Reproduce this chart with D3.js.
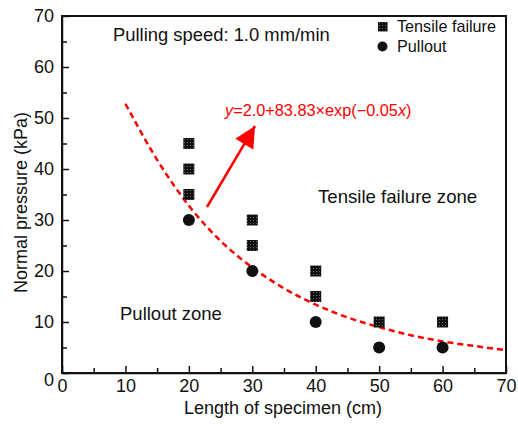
<!DOCTYPE html>
<meta charset="utf-8">
<style>
  body { margin: 0; background: #fff; }
  text { font-family: "Liberation Sans", Arial, sans-serif; fill: #111; }
  .axis text { font-size: 18px; }
  .axis path, .axis line { stroke: #111; stroke-width: 1.5px; }
</style>
<body>
<script src="https://d3js.org/d3.v7.min.js"></script>
<script>
// data
const tensileLen = [20, 20, 20, 30, 30, 40, 40, 50, 60];
const tensileP   = [45, 40, 35, 30, 25, 20, 15, 10, 10];
const pulloutLen = [20, 30, 40, 50, 60];
const pulloutP   = [30, 20, 10, 5, 5];
// fitted curve y = 2.0 + 83.83 exp(-0.05x), values as read
const fitLen = [10, 15, 20, 25, 30, 35, 40, 45, 50, 55, 60, 65, 70];
const fitP   = [52.8, 41.8, 32.8, 25.9, 20.7, 16.6, 13.4, 10.9, 9.0, 7.4, 6.2, 5.3, 4.5];
const xTicks = [0, 10, 20, 30, 40, 50, 60, 70];
const yTicks = [0, 10, 20, 30, 40, 50, 60, 70];

const width = 518, height = 424;
const margin = {top: 16, right: 12, bottom: 51, left: 62};

const svg = d3.select('body').append('svg')
  .attr('width', width).attr('height', height);

const x = d3.scaleLinear().domain([0, 70]).range([margin.left, width - margin.right]);
const y = d3.scaleLinear().domain([0, 70]).range([height - margin.bottom, margin.top]);

// checker pattern for tensile markers
const defs = svg.append('defs');
const pat = defs.append('pattern')
  .attr('id', 'chk').attr('patternUnits', 'userSpaceOnUse')
  .attr('width', 3).attr('height', 3);
pat.append('rect').attr('width', 3).attr('height', 3).attr('fill', '#111');
pat.append('rect').attr('x', 1).attr('y', 1).attr('width', 1).attr('height', 1).attr('fill', '#666');

// axes, ticks inside
const xAxis = svg.append('g').attr('class', 'axis')
  .attr('transform', `translate(0,${y(0)})`)
  .call(d3.axisBottom(x).tickValues(d3.range(0, 71, 5)).tickSize(-5).tickSizeOuter(0)
    .tickFormat(d => xTicks.includes(d) ? d : ''));
xAxis.selectAll('text').attr('dy', '0.9em');
xAxis.selectAll('.tick line').attr('y2', d => d % 10 === 0 ? -7 : -5);

const yAxis = svg.append('g').attr('class', 'axis')
  .attr('transform', `translate(${x(0)},0)`)
  .call(d3.axisLeft(y).tickValues(d3.range(0, 71, 5)).tickSize(-5).tickSizeOuter(0)
    .tickFormat(d => yTicks.includes(d) ? d : ''));
yAxis.selectAll('text').attr('x', -8);
yAxis.selectAll('.tick').filter(d => d === 0).select('text').attr('dy', '0.7em');
yAxis.selectAll('.tick line').attr('x2', d => d % 10 === 0 ? 7 : 5);

// frame
svg.append('rect')
  .attr('x', x(0)).attr('y', y(70))
  .attr('width', x(70) - x(0)).attr('height', y(0) - y(70))
  .attr('fill', 'none').attr('stroke', '#111').attr('stroke-width', 2);

// axis titles
svg.append('text').attr('x', (x(0) + x(70)) / 2 - 1).attr('y', 414)
  .attr('text-anchor', 'middle').style('font-size', '18px').text('Length of specimen (cm)');
svg.append('text').attr('transform', `translate(27,${(y(0) + y(70)) / 2 + 8}) rotate(-90)`)
  .attr('text-anchor', 'middle').style('font-size', '18px').text('Normal pressure (kPa)');

// fitted curve
const line = d3.line().x((d, i) => x(d)).y((d, i) => y(fitP[i])).curve(d3.curveMonotoneX);
svg.append('path').datum(fitLen).attr('d', line)
  .attr('fill', 'none').attr('stroke', '#f00').attr('stroke-width', 2.5)
  .attr('stroke-dasharray', '6,4');

// points
svg.append('g').selectAll('rect').data(tensileLen).join('rect')
  .attr('x', d => x(d) - 5.5).attr('y', (d, i) => y(tensileP[i]) - 5.5)
  .attr('width', 11).attr('height', 11).attr('fill', 'url(#chk)');
svg.append('g').selectAll('circle').data(pulloutLen).join('circle')
  .attr('cx', d => x(d)).attr('cy', (d, i) => y(pulloutP[i])).attr('r', 6)
  .attr('fill', '#111');

// legend
svg.append('rect').attr('x', 378).attr('y', 22).attr('width', 9.5).attr('height', 9.5).attr('fill', 'url(#chk)');
svg.append('text').attr('x', 397).attr('y', 32).style('font-size', '16.2px').text('Tensile failure');
svg.append('circle').attr('cx', 382.5).attr('cy', 46.5).attr('r', 5).attr('fill', '#111');
svg.append('text').attr('x', 397).attr('y', 52).style('font-size', '16.2px').text('Pullout');

// annotations
svg.append('text').attr('x', 113).attr('y', 41).style('font-size', '18.4px')
  .text('Pulling speed: 1.0 mm/min');
svg.append('text').attr('x', 318).attr('y', 203).style('font-size', '18.6px')
  .text('Tensile failure zone');
svg.append('text').attr('x', 120).attr('y', 320).style('font-size', '18.5px')
  .text('Pullout zone');

const eq = svg.append('text').attr('x', 225).attr('y', 116).style('font-size', '16.3px')
  .style('fill', '#f00');
eq.append('tspan').style('font-style', 'italic').style('fill', '#f00').text('y');
eq.append('tspan').style('fill', '#f00').text('=2.0+83.83\u00d7exp(\u22120.05');
eq.append('tspan').style('font-style', 'italic').style('fill', '#f00').text('x');
eq.append('tspan').style('fill', '#f00').text(')');

// arrow
defs.append('marker').attr('id', 'ah').attr('viewBox', '0 0 10 10')
  .attr('refX', 10).attr('refY', 5)
  .attr('markerUnits', 'userSpaceOnUse').attr('orient', 'auto')
  .attr('markerWidth', 27).attr('markerHeight', 21)
  .append('path').attr('d', 'M0,0L10,5L0,10Z').attr('fill', '#f00');
svg.append('line').attr('x1', 207).attr('y1', 207).attr('x2', 255).attr('y2', 126)
  .attr('stroke', '#f00').attr('stroke-width', 2.5).attr('marker-end', 'url(#ah)');
</script>
</body>
</html>
